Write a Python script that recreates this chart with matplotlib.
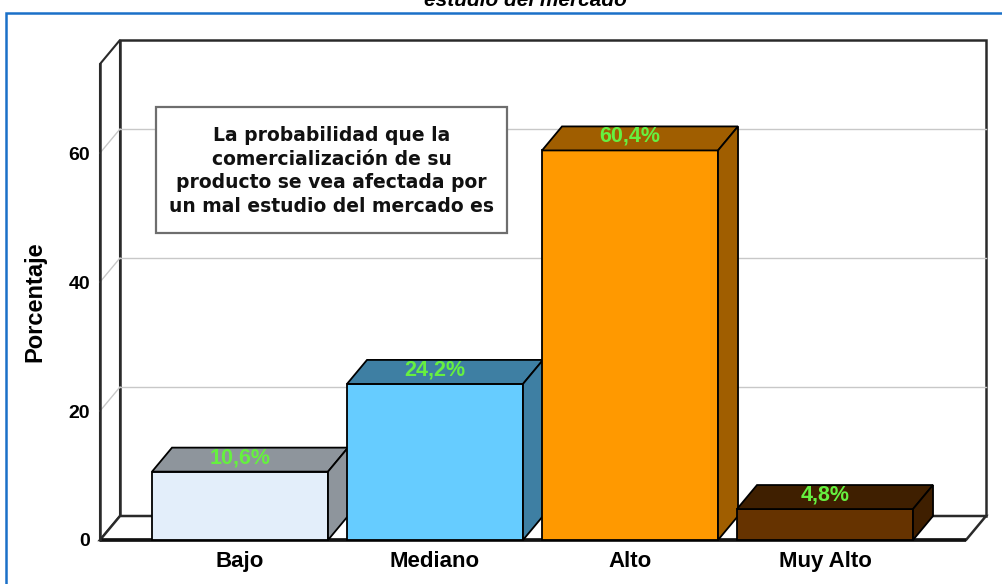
import matplotlib
matplotlib.use("Agg")
import matplotlib.pyplot as plt
from matplotlib.patches import Polygon, Rectangle

# ---- data ----
categories = ["Bajo", "Mediano", "Alto", "Muy Alto"]
values = [10.6, 24.2, 60.4, 4.8]
value_labels = ["10,6%", "24,2%", "60,4%", "4,8%"]
yticks = [0, 20, 40, 60]
front_colors = ["#E3EEFA", "#66CCFF", "#FF9900", "#663300"]
side_colors = ["#8E959C", "#3E7FA3", "#A05E00", "#3F1F00"]
box_text = ("La probabilidad que la\ncomercialización de su\n"
            "producto se vea afectada por\nun mal estudio del mercado es")
title_text = "estudio del mercado"

# ---- layout ----
W, H = 1002, 584
fig = plt.figure(figsize=(W / 100, H / 100), dpi=100)
ax = fig.add_axes([100 / W, 44 / H, 866 / W, 476 / H])
x0, x1 = -0.718, 3.723
ymax = 73.8
ax.set_xlim(x0, x1)
ax.set_ylim(0, ymax)
ax.set_facecolor("none")
for s in ax.spines.values():
    s.set_visible(False)

DX = 20 / 195.0      # depth offset in x units
DY = 24 / 6.45       # depth offset in y units
HW = 88 / 195.0      # bar half-width
wall_ec = "#2A2A2A"

# back wall
ax.add_patch(Rectangle((x0 + DX, DY), x1 - x0, ymax, facecolor="white",
                       edgecolor=wall_ec, lw=1.8, zorder=1, clip_on=False))
# left wall
ax.add_patch(Polygon([(x0, 0), (x0 + DX, DY), (x0 + DX, ymax + DY), (x0, ymax)],
                     closed=True, facecolor="white", edgecolor=wall_ec, lw=1.5,
                     zorder=1, clip_on=False))
# gridlines
for v in yticks[1:]:
    ax.plot([x0 + DX, x1 + DX], [v + DY, v + DY], color="#C8C8C8", lw=1.0,
            zorder=2, clip_on=False)
    ax.plot([x0, x0 + DX], [v, v + DY], color="#C8C8C8", lw=1.0,
            zorder=2, clip_on=False)
# floor
ax.add_patch(Polygon([(x0, 0), (x1, 0), (x1 + DX, DY), (x0 + DX, DY)],
                     closed=True, facecolor="white", edgecolor=wall_ec, lw=1.8,
                     zorder=2, clip_on=False))
ax.plot([x0, x1], [0, 0], color="#111111", lw=2.6, zorder=3, clip_on=False,
        solid_capstyle="butt")
ax.plot([x0, x0], [0, ymax], color=wall_ec, lw=1.8, zorder=3, clip_on=False)

# text box
ax.add_patch(Rectangle((0.0647, 0.645), 0.4053, 0.2647, transform=ax.transAxes,
                       facecolor="white", edgecolor="#6E6E6E", lw=1.6,
                       zorder=3, clip_on=False))
ax.text(0.2673, 0.775, box_text, transform=ax.transAxes, ha="center",
        va="center", fontsize=13.5, fontweight="bold", family="DejaVu Sans",
        linespacing=1.3, color="#111111", zorder=4)

# bars
for i, (v, fc, sc) in enumerate(zip(values, front_colors, side_colors)):
    xl, xr = i - HW, i + HW
    z = 5 + i
    ax.add_patch(Rectangle((xl, 0), xr - xl, v, facecolor=fc, edgecolor="black",
                           lw=1.3, zorder=z, clip_on=False))
    ax.add_patch(Polygon([(xl, v), (xr, v), (xr + DX, v + DY), (xl + DX, v + DY)],
                         closed=True, facecolor=sc, edgecolor="black", lw=1.3,
                         zorder=z, clip_on=False))
    ax.add_patch(Polygon([(xr, 0), (xr + DX, DY), (xr + DX, v + DY), (xr, v)],
                         closed=True, facecolor=sc, edgecolor="black", lw=1.3,
                         zorder=z, clip_on=False))
    ax.text(i, v + DY / 2 + 0.3, value_labels[i], ha="center", va="center",
            fontsize=15.5, color="#66F040", family="Liberation Sans",
            fontweight="bold", zorder=20)

# ticks / labels
ax.set_yticks(yticks)
ax.set_yticklabels([str(t) for t in yticks], fontsize=14, fontweight="bold",
                   family="Liberation Sans")
ax.set_xticks(range(len(categories)))
ax.set_xticklabels(categories, fontsize=16, fontweight="bold",
                   family="Liberation Sans")
ax.tick_params(axis="y", length=0, pad=7)
ax.tick_params(axis="x", length=0, pad=8)
ax.set_ylabel("Porcentaje", fontsize=17, fontweight="bold",
              family="Liberation Sans")
ax.yaxis.set_label_coords(-0.075, 0.5)
ax.yaxis.label.set_va("center")

# outer blue frame and cropped title
fig.patches.append(Rectangle((5.5 / W, -0.1), 2.0, (H - 12.5) / H + 0.1,
                             transform=fig.transFigure, facecolor="none",
                             edgecolor="#1A70C8", lw=1.8))
fig.text(525 / W, 1 - 6 / H, title_text, ha="center", va="baseline",
         fontsize=15, fontweight="bold", fontstyle="italic",
         family="Liberation Sans")

fig.savefig("out.png", dpi=100, facecolor="white")
